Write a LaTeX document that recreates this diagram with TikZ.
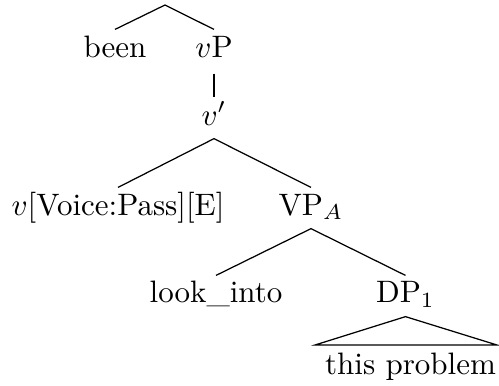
\documentclass[tikz,border=0pt]{standalone}
\begin{document}
\begin{tikzpicture}[x=0.3226pt,y=-0.3226pt,
  lbl/.style={inner sep=0pt, text height=8.7pt, text depth=4.2pt, anchor=base},
  edge/.style={line width=0.4pt}]
\useasboundingbox (0,0) rectangle (499,386);
\coordinate (root) at (165,5);
\node[lbl] (been) at (115,57) {been};
\node[lbl, text depth=5.2pt] (vP) at (214,57) {$v$P};
\node[lbl] (vbar) at (214,125) {$v'$};
\node[lbl] (vvoice) at (118,215) {$v$[Voice:Pass][E]};
\node[lbl] (VP) at (311,215) {VP$_A$};
\node[lbl] (look) at (216,303) {look\_into};
\node[lbl] (DP) at (405.5,303) {DP$_1$};
\node[lbl] (prob) at (410.5,375) {this problem};
\coordinate (tl) at (315,345);
\coordinate (tr) at (497,345);
\draw[edge] (been.north) -- (root) -- (vP.north);
\draw[edge] (vP.south) -- (vbar.north);
\draw[edge] (vvoice.north) -- (vbar.south) -- (VP.north);
\draw[edge] (look.north) -- (VP.south) -- (DP.north);
\draw[edge] (DP.south) -- (tl) -- (tr) -- cycle;
\end{tikzpicture}
\end{document}
